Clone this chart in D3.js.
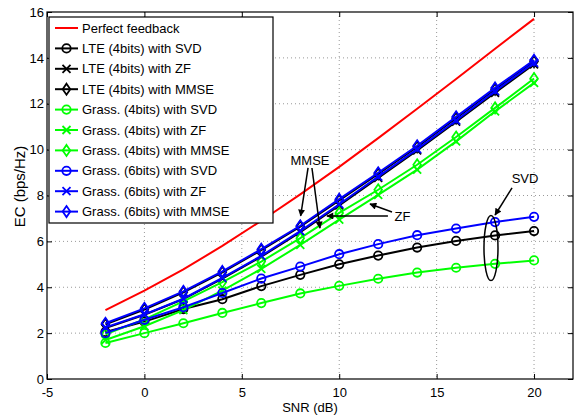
<!DOCTYPE html>
<html>
<head>
<meta charset="utf-8">
<script src="https://cdn.jsdelivr.net/npm/d3@7"></script>
<style>
  body { margin: 0; background: #fff; }
  text { font-family: "Liberation Sans", Arial, Helvetica, sans-serif; fill: #000; }
</style>
</head>
<body>
<svg id="chart" width="579" height="417"></svg>
<script>
// SNR points (dB)
var snr = [-2, 0, 2, 4, 6, 8, 10, 12, 14, 16, 18, 20];

// ergodic capacity (bps/Hz)
var perfect    = [3.0, 3.85, 4.78, 5.8, 6.9, 8.05, 9.25, 10.5, 11.78, 13.08, 14.4, 15.7];
var lteSVD     = [2.05, 2.5, 3.05, 3.48, 4.05, 4.54, 5.0, 5.38, 5.73, 6.02, 6.26, 6.45];
var lteZF      = [2.22, 2.8, 3.48, 4.38, 5.33, 6.4, 7.57, 8.77, 9.97, 11.22, 12.48, 13.72];
var lteMMSE    = [2.38, 3.03, 3.78, 4.65, 5.62, 6.64, 7.79, 8.94, 10.12, 11.37, 12.63, 13.84];
var grass4SVD  = [1.57, 2.0, 2.43, 2.88, 3.31, 3.73, 4.06, 4.37, 4.64, 4.85, 5.02, 5.17];
var grass4ZF   = [1.7, 2.3, 3.0, 3.85, 4.8, 5.85, 6.95, 8.03, 9.13, 10.36, 11.67, 12.91];
var grass4MMSE = [1.95, 2.6, 3.38, 4.22, 5.12, 6.14, 7.24, 8.25, 9.34, 10.55, 11.82, 13.1];
var grass6SVD  = [2.0, 2.58, 3.13, 3.75, 4.38, 4.9, 5.44, 5.88, 6.27, 6.56, 6.84, 7.07];
var grass6ZF   = [2.25, 2.82, 3.5, 4.41, 5.37, 6.45, 7.62, 8.82, 10.02, 11.27, 12.55, 13.78];
var grass6MMSE = [2.43, 3.08, 3.82, 4.69, 5.66, 6.68, 7.84, 8.99, 10.17, 11.43, 12.69, 13.9];

var legendLabels = [
  "Perfect feedback",
  "LTE (4bits) with SVD", "LTE (4bits) with ZF", "LTE (4bits) with MMSE",
  "Grass. (4bits) with SVD", "Grass. (4bits) with ZF", "Grass. (4bits) with MMSE",
  "Grass. (6bits) with SVD", "Grass. (6bits) with ZF", "Grass. (6bits) with MMSE"
];

var xTicks = [-5, 0, 5, 10, 15, 20];
var yTicks = [0, 2, 4, 6, 8, 10, 12, 14, 16];

// series table: values, colour, marker
var series = [
  {vals: perfect,    color: "#ff0000", marker: null},
  {vals: lteSVD,     color: "#000000", marker: "o"},
  {vals: lteZF,      color: "#000000", marker: "x"},
  {vals: lteMMSE,    color: "#000000", marker: "d"},
  {vals: grass4SVD,  color: "#00ff00", marker: "o"},
  {vals: grass4ZF,   color: "#00ff00", marker: "x"},
  {vals: grass4MMSE, color: "#00ff00", marker: "d"},
  {vals: grass6SVD,  color: "#0000ff", marker: "o"},
  {vals: grass6ZF,   color: "#0000ff", marker: "x"},
  {vals: grass6MMSE, color: "#0000ff", marker: "d"}
];

var pLeft = 47, pRight = 573, pTop = 12, pBottom = 379;
var svg = d3.select("svg#chart");

var x = d3.scaleLinear().domain([-5, 22]).range([pLeft, pRight]);
var y = d3.scaleLinear().domain([0, 16]).range([pBottom, pTop]);

// dotted grid
svg.append("g").selectAll("line").data(xTicks.slice(1)).enter()
  .append("line")
  .attr("x1", d => x(d)).attr("x2", d => x(d))
  .attr("y1", pTop).attr("y2", pBottom)
  .attr("stroke", "#999").attr("stroke-dasharray", "1,3");
svg.append("g").selectAll("line").data(yTicks.slice(1, -1)).enter()
  .append("line")
  .attr("x1", pLeft).attr("x2", pRight)
  .attr("y1", d => y(d)).attr("y2", d => y(d))
  .attr("stroke", "#999").attr("stroke-dasharray", "1,3");

// axes with inward ticks
function styleAxis(g) {
  g.select(".domain").remove();
  g.selectAll(".tick line").attr("stroke", "#000");
  g.selectAll(".tick text").style("font-size", "13px")
    .style("font-family", "'Liberation Sans', Arial, sans-serif");
}
svg.append("g").attr("transform", "translate(0," + pBottom + ")")
  .call(d3.axisBottom(x).tickValues(xTicks).tickSize(-5).tickPadding(9).tickFormat(d => String(d)))
  .call(styleAxis);
svg.append("g").attr("transform", "translate(0," + pTop + ")")
  .call(d3.axisTop(x).tickValues(xTicks).tickSize(-5).tickFormat(""))
  .call(styleAxis);
svg.append("g").attr("transform", "translate(" + pLeft + ",0)")
  .call(d3.axisLeft(y).tickValues(yTicks).tickSize(-5).tickPadding(3).tickFormat(d => String(d)))
  .call(styleAxis);
svg.append("g").attr("transform", "translate(" + pRight + ",0)")
  .call(d3.axisRight(y).tickValues(yTicks).tickSize(-5).tickFormat(""))
  .call(styleAxis);

svg.append("rect")
  .attr("x", pLeft).attr("y", pTop)
  .attr("width", pRight - pLeft).attr("height", pBottom - pTop)
  .attr("fill", "none").attr("stroke", "#000").attr("stroke-width", 1.2);

// axis labels
svg.append("text").attr("x", (pLeft + pRight) / 2).attr("y", 412)
  .attr("text-anchor", "middle").style("font-size", "13px").text("SNR (dB)");
svg.append("text").attr("transform", "translate(25," + ((pTop + pBottom) / 2 - 9) + ") rotate(-90)")
  .attr("text-anchor", "middle").style("font-size", "15px").text("EC (bps/Hz)");

// marker shapes
function markerPath(type, cx, cy) {
  if (type === "x") {
    var s = 4;
    return "M" + (cx - s) + "," + (cy - s) + "L" + (cx + s) + "," + (cy + s) +
           "M" + (cx - s) + "," + (cy + s) + "L" + (cx + s) + "," + (cy - s);
  }
  if (type === "d") {
    var w = 3.8, h = 5.5;
    return "M" + cx + "," + (cy - h) + "L" + (cx + w) + "," + cy +
           "L" + cx + "," + (cy + h) + "L" + (cx - w) + "," + cy + "Z";
  }
  return null;
}

function drawMarker(g, type, color, cx, cy) {
  if (type === "o") {
    g.append("circle").attr("cx", cx).attr("cy", cy).attr("r", 4.2)
      .attr("fill", "none").attr("stroke", color).attr("stroke-width", 1.8);
  } else if (type) {
    g.append("path").attr("d", markerPath(type, cx, cy))
      .attr("fill", "none").attr("stroke", color).attr("stroke-width", 1.8);
  }
}

// lines
var line = d3.line().x((d, i) => x(snr[i])).y(d => y(d));
var plot = svg.append("g");
series.forEach(function(s) {
  var g = plot.append("g");
  g.append("path").datum(s.vals).attr("d", line)
    .attr("fill", "none").attr("stroke", s.color).attr("stroke-width", 2);
  if (s.marker) {
    s.vals.forEach(function(v, i) {
      drawMarker(g, s.marker, s.color, x(snr[i]), y(v));
    });
  }
});

// legend
var leg = svg.append("g");
leg.append("rect").attr("x", 49).attr("y", 17).attr("width", 224).attr("height", 206)
  .attr("fill", "#fff").attr("stroke", "#000").attr("stroke-width", 1.2);
series.forEach(function(s, i) {
  var ly = 28 + i * 20.4;
  leg.append("line").attr("x1", 55).attr("x2", 78).attr("y1", ly).attr("y2", ly)
    .attr("stroke", s.color).attr("stroke-width", 2);
  if (s.marker) drawMarker(leg, s.marker, s.color, 66.5, ly);
  leg.append("text").attr("x", 82).attr("y", ly + 4.5)
    .style("font-size", "13px").text(legendLabels[i]);
});

// annotations (data units)
var defs = svg.append("defs");
defs.append("marker").attr("id", "head")
  .attr("viewBox", "0 0 10 10").attr("refX", 9).attr("refY", 5)
  .attr("markerWidth", 9).attr("markerHeight", 7).attr("markerUnits", "userSpaceOnUse")
  .attr("orient", "auto")
  .append("path").attr("d", "M0,0L10,5L0,10Z").attr("fill", "#000");

var arrows = [
  [8.40, 9.20, 8.02, 7.11],
  [8.60, 9.20, 9.01, 6.58],
  [12.50, 7.11, 9.37, 7.11],
  [12.71, 7.28, 11.58, 7.63],
  [18.87, 8.33, 18.0, 7.15]
];
var notes = [
  {t: "MMSE", x: 8.5, y: 9.33},
  {t: "ZF", x: 13.25, y: 6.89},
  {t: "SVD", x: 19.54, y: 8.55}
];
var ann = svg.append("g");
arrows.forEach(function(a) {
  ann.append("line").attr("x1", x(a[0])).attr("y1", y(a[1]))
    .attr("x2", x(a[2])).attr("y2", y(a[3]))
    .attr("stroke", "#000").attr("stroke-width", 1.5).attr("marker-end", "url(#head)");
});
notes.forEach(function(n) {
  ann.append("text").attr("x", x(n.x)).attr("y", y(n.y))
    .attr("text-anchor", "middle").style("font-size", "13px").text(n.t);
});
ann.append("ellipse").attr("cx", x(17.79)).attr("cy", y(5.71))
  .attr("rx", x(17.79 + 0.36) - x(17.79)).attr("ry", y(5.71) - y(5.71 + 1.42))
  .attr("fill", "none").attr("stroke", "#000").attr("stroke-width", 1.5);
</script>
</body>
</html>
